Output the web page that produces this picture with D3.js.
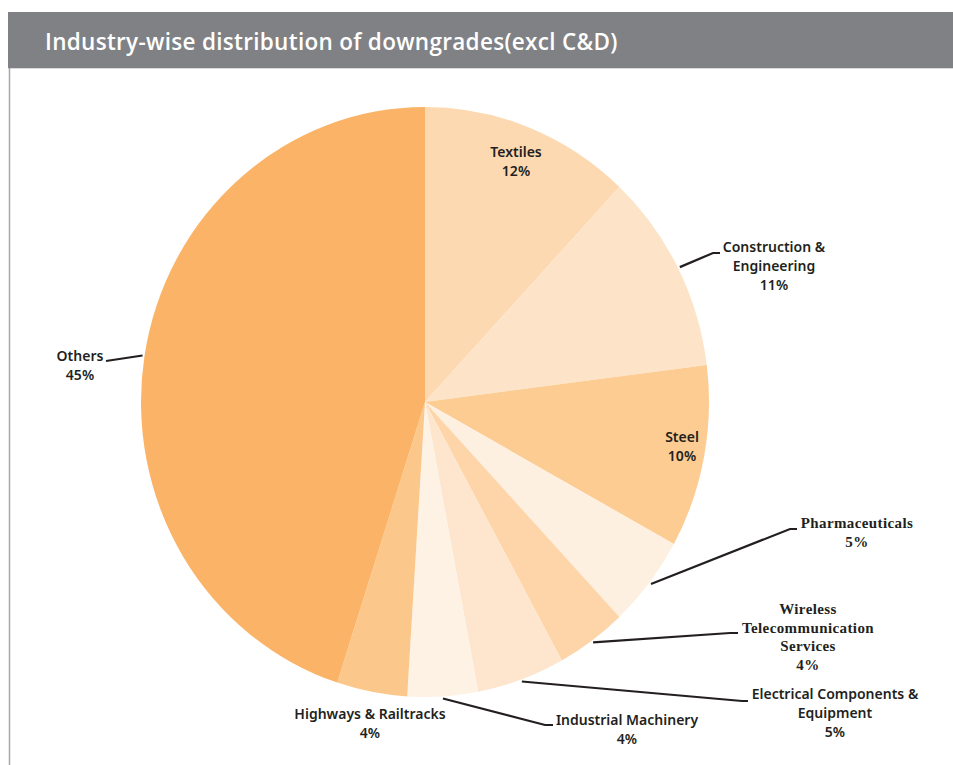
<!DOCTYPE html>
<html>
<head>
<meta charset="utf-8">
<script src="https://cdn.jsdelivr.net/npm/d3@7"></script>
<style>
  html, body { margin: 0; padding: 0; background: #ffffff; }
  svg { display: block; }
</style>
</head>
<body>
<svg id="chart" width="953" height="765"></svg>
<script>
// Share of downgrades by industry (excluding C&D), clockwise from 12 o'clock
const categories = [
  "Textiles",
  "Construction & Engineering",
  "Steel",
  "Pharmaceuticals",
  "Wireless Telecommunication Services",
  "Electrical Components & Equipment",
  "Industrial Machinery",
  "Highways & Railtracks",
  "Others"
];
const shares = [12, 11, 10, 5, 4, 5, 4, 4, 45];
const sliceColors = [
  "#FDD9B1", "#FDE4C8", "#FCCC92", "#FEF0E1", "#FDD5A9",
  "#FDE6CD", "#FEF2E5", "#FCC78A", "#FBB467"
];

// Label layout: text lines, anchor, serif or sans, and leader elbow (if any)
const labelLines = [
  ["Textiles"],
  ["Construction &", "Engineering"],
  ["Steel"],
  ["Pharmaceuticals"],
  ["Wireless", "Telecommunication", "Services"],
  ["Electrical Components &", "Equipment"],
  ["Industrial Machinery"],
  ["Highways & Railtracks"],
  ["Others"]
];
const labelAt = [
  {x: 516, y: 157, serif: false},
  {x: 774, y: 252, serif: false, leader: [[713, 253], [720, 253]]},
  {x: 682, y: 442, serif: false},
  {x: 857, y: 528, serif: true, leader: [[790, 529], [797, 529]]},
  {x: 808, y: 614, serif: true, leader: [[730, 633], [738, 633]]},
  {x: 835, y: 699, serif: false, leader: [[742, 701], [748, 701]]},
  {x: 627, y: 725, serif: false, leader: [[545, 725], [553, 725]]},
  {x: 370, y: 719, serif: false},
  {x: 80,  y: 361, serif: false, leader: [[106, 361], [106, 361]]}
];

const svg = d3.select("#chart");
const W = 953, H = 765;

// Title band and frame
svg.append("rect").attr("x", 8).attr("y", 12).attr("width", W - 8).attr("height", 56)
  .attr("fill", "#808185");
svg.append("line").attr("x1", 8).attr("x2", W).attr("y1", 68.5).attr("y2", 68.5)
  .attr("stroke", "#d8d8d8").attr("stroke-width", 1);
svg.append("line").attr("x1", 9.5).attr("x2", 9.5).attr("y1", 68).attr("y2", H)
  .attr("stroke", "#a6a6a6").attr("stroke-width", 1.5);
svg.append("text").attr("x", 45).attr("y", 50)
  .attr("fill", "#ffffff")
  .attr("font-family", "'Open Sans', sans-serif")
  .attr("font-weight", 600)
  .attr("font-size", 22.5)
  .attr("letter-spacing", 0.3)
  .text("Industry-wise distribution of downgrades(excl C&D)");

// Pie geometry (slightly taller than wide)
const cx = 425, cy = 402, r = 284, sy = 295 / 284;
const data = categories.map((c, i) => ({name: c, value: shares[i], i}));
const pie = d3.pie().sort(null).value(d => d.value);
const arcs = pie(data);
const arc = d3.arc().innerRadius(0).outerRadius(r);

const g = svg.append("g").attr("transform", `translate(${cx},${cy}) scale(1,${sy})`);
g.selectAll("path").data(arcs).join("path")
  .attr("d", arc)
  .attr("fill", d => sliceColors[d.data.i])
  .attr("stroke", "none");

// Rim point at a slice's mid angle, in page coordinates
function rimPoint(a, rr) {
  const ang = (a.startAngle + a.endAngle) / 2;
  return [cx + Math.sin(ang) * rr, cy - Math.cos(ang) * rr * sy];
}

// Leader lines
const lineGen = d3.line();
arcs.forEach(a => {
  const L = labelAt[a.data.i];
  if (!L.leader) return;
  const pts = [rimPoint(a, r + 2), ...L.leader];
  svg.append("path").attr("d", lineGen(pts))
    .attr("fill", "none").attr("stroke", "#231f20").attr("stroke-width", 2.2);
});

// Labels
arcs.forEach(a => {
  const L = labelAt[a.data.i];
  const lines = labelLines[a.data.i].concat([a.data.value + "%"]);
  const lh = L.serif ? 18.7 : 19;
  const t = svg.append("text")
    .attr("text-anchor", "middle")
    .attr("fill", "#231f20")
    .attr("font-family", L.serif ? "'Liberation Serif', serif" : "'Noto Sans', sans-serif")
    .attr("font-weight", L.serif ? 700 : 600)
    .attr("font-size", L.serif ? 15 : 14)
    .attr("letter-spacing", L.serif ? 0.4 : 0);
  lines.forEach((s, k) => {
    t.append("tspan").attr("x", L.x).attr("y", L.y + k * lh).text(s);
  });
});
</script>
</body>
</html>
